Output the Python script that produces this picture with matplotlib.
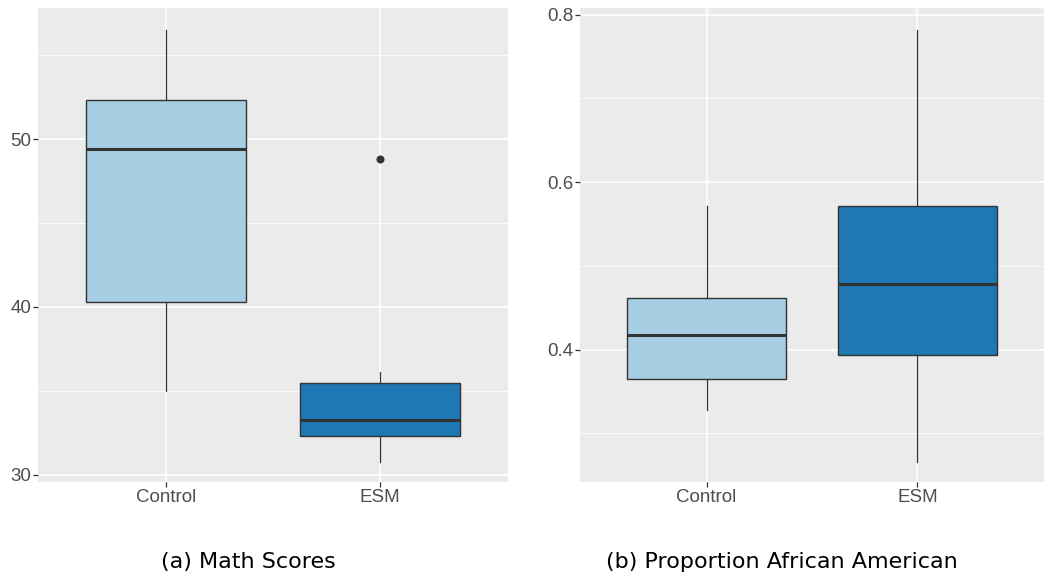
import matplotlib
matplotlib.use("Agg")
import matplotlib.pyplot as plt

categories = ["Control", "ESM"]
colors = ["#A6CEE3", "#1F78B4"]

# Panel (a) Math Scores: whisker low, Q1, median, Q3, whisker high
math_whislo = [35.0, 30.8]
math_q1 = [40.3, 32.3]
math_med = [49.4, 33.3]
math_q3 = [52.3, 35.5]
math_whishi = [56.5, 36.1]
math_fliers = [[], [48.8]]

# Panel (b) Proportion African American
prop_whislo = [0.328, 0.266]
prop_q1 = [0.365, 0.394]
prop_med = [0.417, 0.478]
prop_q3 = [0.462, 0.572]
prop_whishi = [0.572, 0.782]
prop_fliers = [[], []]

math_major = [30, 40, 50]
math_minor = [35, 45, 55]
math_ylim = (29.58, 57.8)
prop_major = [0.4, 0.6, 0.8]
prop_minor = [0.3, 0.5, 0.7]
prop_ylim = (0.242, 0.808)
prop_labels = ["0.4", "0.6", "0.8"]

fig = plt.figure(figsize=(10.45, 5.79), dpi=100)
W, H = 1045, 579
ax1 = fig.add_axes([38 / W, 1 - 482 / H, 470 / W, 474 / H])
ax2 = fig.add_axes([580 / W, 1 - 482 / H, 464 / W, 474 / H])


def draw(ax, wl, q1, med, q3, wh, fl, major, minor, ylim, labels):
    ax.set_facecolor("#EBEBEB")
    for s in ax.spines.values():
        s.set_visible(False)
    stats = []
    for i in range(len(categories)):
        stats.append(dict(whislo=wl[i], q1=q1[i], med=med[i], q3=q3[i],
                          whishi=wh[i], fliers=fl[i], label=categories[i]))
    pos = list(range(1, len(categories) + 1))
    bp = ax.bxp(stats, positions=pos, widths=0.75, patch_artist=True,
                showcaps=False,
                boxprops=dict(edgecolor="#333333", linewidth=1.0),
                medianprops=dict(color="#333333", linewidth=2.2),
                whiskerprops=dict(color="#333333", linewidth=0.9),
                flierprops=dict(marker="o", markerfacecolor="#333333",
                                markeredgecolor="#333333", markersize=4.8))
    for patch, c in zip(bp["boxes"], colors):
        patch.set_facecolor(c)
    for b in bp["boxes"]:
        b.set_zorder(3)
    for m in bp["medians"]:
        m.set_zorder(4)
    ax.set_xlim(0.4, len(categories) + 0.6)
    ax.set_ylim(*ylim)
    ax.set_yticks(major)
    ax.set_yticks(minor, minor=True)
    if labels is not None:
        ax.set_yticklabels(labels)
    ax.set_xticks(pos)
    ax.set_xticklabels(categories)
    ax.grid(True, which="major", color="white", linewidth=1.2, zorder=0)
    ax.grid(True, which="minor", axis="y", color="white", linewidth=0.6, zorder=0)
    ax.set_axisbelow(True)
    ax.tick_params(which="major", length=3.5, width=0.9, color="#333333",
                   labelcolor="#4D4D4D", labelsize=13.5, pad=1.5)
    ax.tick_params(which="minor", length=0)
    for t in ax.get_xticklabels() + ax.get_yticklabels():
        t.set_fontfamily("Liberation Sans")


draw(ax1, math_whislo, math_q1, math_med, math_q3, math_whishi, math_fliers,
     math_major, math_minor, math_ylim, None)
draw(ax2, prop_whislo, prop_q1, prop_med, prop_q3, prop_whishi, prop_fliers,
     prop_major, prop_minor, prop_ylim, prop_labels)

fig.text(248 / W, 1 - 562 / H, "(a) Math Scores", ha="center", va="center",
         fontsize=16, color="black", family="DejaVu Sans")
fig.text(782 / W, 1 - 562 / H, "(b) Proportion African American", ha="center",
         va="center", fontsize=16, color="black", family="DejaVu Sans")

fig.savefig("out.png", dpi=100)
